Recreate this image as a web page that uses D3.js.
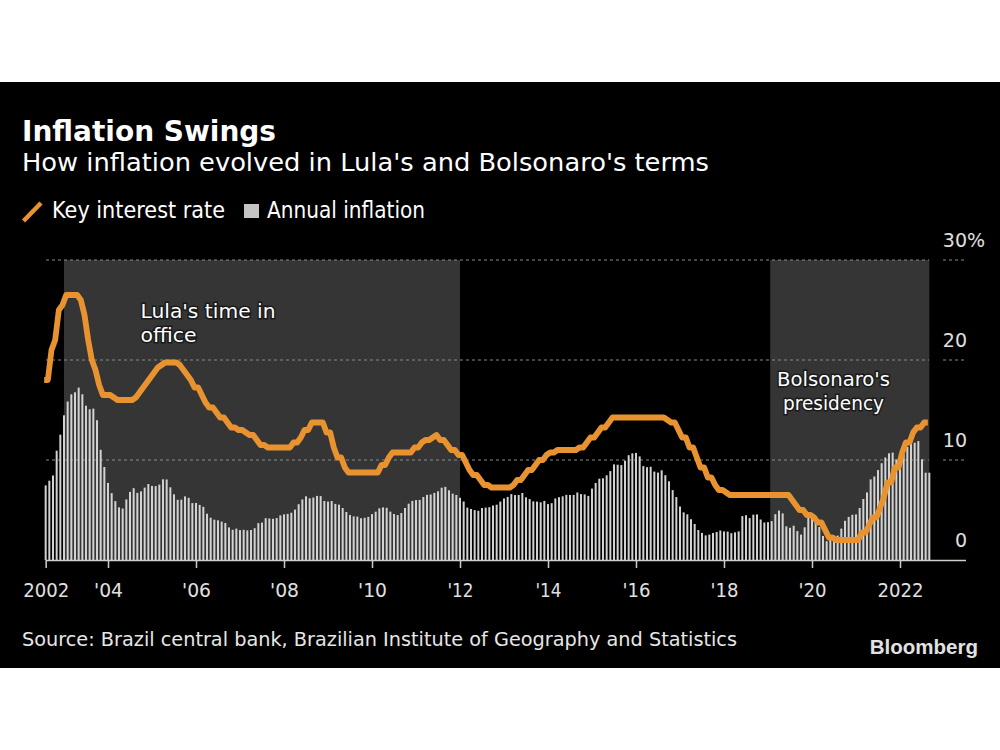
<!DOCTYPE html>
<html>
<head>
<meta charset="utf-8">
<script src="https://cdn.jsdelivr.net/npm/d3@7"></script>
<style>
  html, body { margin: 0; padding: 0; background: #fff; }
  svg { display: block; }
  text { font-family: "DejaVu Sans", Verdana, sans-serif; }
</style>
</head>
<body>
<svg id="chart" width="1000" height="750"></svg>
<script>
// ---------------- DATA (monthly, Aug 2002 – Sep 2022) ----------------
const startYear = 2002;
const startMonth = 8; // August

// Annual inflation (IPCA, 12-month, %)
const inflation = [
  7.46, 7.93, 8.45, 10.93, 12.53,
  14.47, 15.85, 16.57, 16.77, 17.24, 16.57, 15.43, 15.07, 15.14, 13.98, 11.02, 9.30,
  7.71, 6.69, 5.89, 5.26, 5.15, 6.06, 6.81, 7.18, 6.71, 6.86, 7.24, 7.60,
  7.41, 7.39, 7.54, 8.07, 8.05, 7.27, 6.57, 6.02, 6.04, 6.36, 6.22, 5.69,
  5.70, 5.51, 5.32, 4.63, 4.23, 4.03, 3.97, 3.84, 3.70, 3.26, 3.02, 3.14,
  2.99, 3.02, 2.96, 3.00, 3.18, 3.69, 3.74, 4.18, 4.15, 4.12, 4.19, 4.46,
  4.56, 4.61, 4.73, 5.04, 5.58, 6.06, 6.37, 6.17, 6.25, 6.41, 6.39, 5.90,
  5.84, 5.90, 5.61, 5.53, 5.20, 4.80, 4.50, 4.36, 4.34, 4.17, 4.22, 4.31,
  4.59, 4.83, 5.17, 5.26, 5.22, 4.84, 4.60, 4.49, 4.70, 5.20, 5.63, 5.91,
  5.99, 6.01, 6.30, 6.51, 6.55, 6.71, 6.87, 7.23, 7.31, 6.97, 6.64, 6.50,
  6.22, 5.85, 5.24, 5.10, 4.99, 4.92, 5.20, 5.24, 5.28, 5.45, 5.53, 5.84,
  6.15, 6.31, 6.59, 6.49, 6.50, 6.70, 6.27, 6.09, 5.86, 5.84, 5.77, 5.91,
  5.59, 5.68, 6.15, 6.28, 6.37, 6.52, 6.50, 6.51, 6.75, 6.59, 6.56, 6.41,
  7.14, 7.70, 8.13, 8.17, 8.47, 8.89, 9.56, 9.53, 9.49, 9.93, 10.48, 10.67,
  10.71, 10.36, 9.39, 9.28, 9.32, 8.84, 8.74, 8.97, 8.48, 7.87, 6.99, 6.29,
  5.35, 4.76, 4.57, 4.08, 3.60, 3.00, 2.71, 2.46, 2.54, 2.70, 2.80, 2.95,
  2.86, 2.84, 2.68, 2.76, 2.86, 4.39, 4.48, 4.19, 4.53, 4.56, 4.05, 3.75,
  3.78, 3.89, 4.58, 4.94, 4.66, 3.37, 3.22, 3.43, 2.89, 2.54, 3.27, 4.31,
  4.19, 4.01, 3.30, 2.40, 1.88, 2.13, 2.31, 2.44, 3.14, 3.92, 4.31, 4.52,
  4.56, 5.20, 6.10, 6.76, 8.06, 8.35, 8.99, 9.68, 10.25, 10.67, 10.74, 10.06,
  10.38, 10.54, 11.30, 12.13, 11.73, 11.89, 10.07, 8.73, 8.73
];

// Key interest rate (Selic target, %)
const keyRate = [
  18, 18, 21, 22, 25,
  25.5, 26.5, 26.5, 26.5, 26.5, 26, 24.5, 22, 20, 19, 17.5, 16.5,
  16.5, 16.5, 16.25, 16, 16, 16, 16, 16, 16.25, 16.75, 17.25, 17.75,
  18.25, 18.75, 19.25, 19.5, 19.75, 19.75, 19.75, 19.75, 19.5, 19, 18.5, 18,
  17.25, 17.25, 16.5, 15.75, 15.25, 15.25, 14.75, 14.25, 14.25, 13.75, 13.25, 13.25,
  13, 13, 12.75, 12.5, 12.5, 12, 11.5, 11.5, 11.25, 11.25, 11.25, 11.25,
  11.25, 11.25, 11.25, 11.75, 11.75, 12.25, 13, 13, 13.75, 13.75, 13.75, 13.75,
  12.75, 12.75, 11.25, 10.25, 10.25, 9.25, 8.75, 8.75, 8.75, 8.75, 8.75, 8.75,
  8.75, 8.75, 8.75, 9.5, 9.5, 10.25, 10.75, 10.75, 10.75, 10.75, 10.75, 10.75,
  11.25, 11.25, 11.75, 12, 12, 12.25, 12.5, 12, 12, 11.5, 11, 11,
  10.5, 10.5, 9.75, 9, 8.5, 8.5, 8, 7.5, 7.5, 7.25, 7.25, 7.25,
  7.25, 7.25, 7.25, 7.5, 8, 8, 8.5, 9, 9, 9.5, 10, 10,
  10.5, 10.75, 10.75, 11, 11, 11, 11, 11, 11, 11.25, 11.25, 11.75,
  12.25, 12.25, 12.75, 13.25, 13.25, 13.75, 14.25, 14.25, 14.25, 14.25, 14.25, 14.25,
  14.25, 14.25, 14.25, 14.25, 14.25, 14.25, 14.25, 14.25, 14.25, 14, 13.75, 13.75,
  13, 12.25, 12.25, 11.25, 11.25, 10.25, 9.25, 9.25, 8.25, 8.25, 7.5, 7,
  7, 6.75, 6.5, 6.5, 6.5, 6.5, 6.5, 6.5, 6.5, 6.5, 6.5, 6.5,
  6.5, 6.5, 6.5, 6.5, 6.5, 6.5, 6.5, 6, 5.5, 5, 5, 4.5,
  4.5, 4.25, 3.75, 3.75, 3, 2.25, 2.25, 2, 2, 2, 2, 2,
  2, 2, 2.75, 2.75, 3.5, 4.25, 4.25, 5.25, 6.25, 7.75, 7.75, 9.25,
  9.25, 10.75, 11.75, 11.75, 12.75, 13.25, 13.25, 13.75, 13.75
];

// Shaded terms (decimal years)
const termNames = ["Lula", "Bolsonaro"];
const termStarts = [2003, 2019.05];
const termEnds = [2012, 2022 + 8 / 12];

// Axis ticks
const xTickValues = [2002 + 7 / 12, 2004, 2006, 2008, 2010, 2012, 2014, 2016, 2018, 2020, 2022];
const xTickLabels = ["2002", "'04", "'06", "'08", "'10", "'12", "'14", "'16", "'18", "'20", "2022"];
const yTickValues = [0, 10, 20, 30];
const gridValues = [10, 20, 30];

// ---------------- COLORS / LAYOUT ----------------
const ORANGE = "#e8932f";
const BAR = "#d2d2d2";
const SHADE = "#353535";

const svg = d3.select("#chart");

// backgrounds
svg.append("rect").attr("x", 0).attr("y", 0).attr("width", 1000).attr("height", 750).attr("fill", "#fff");
svg.append("rect").attr("x", 0).attr("y", 82).attr("width", 1000).attr("height", 586).attr("fill", "#000");

const monthsDec = inflation.map((_, i) => startYear + (startMonth - 1 + i) / 12);

const x = d3.scaleLinear()
  .domain([startYear + (startMonth - 1) / 12, 2022 + 8 / 12])
  .range([45.67, 929.33]);
const y = d3.scaleLinear().domain([0, 30]).range([560, 260]);

function fit(sel, w) {
  sel.attr("textLength", w).attr("lengthAdjust", "spacingAndGlyphs");
  return sel;
}

// ---------------- Title, subtitle, legend ----------------
fit(svg.append("text").attr("x", 22).attr("y", 140.5)
  .attr("font-size", 28).attr("font-weight", "bold").attr("fill", "#fff")
  .text("Inflation Swings"), 254);
fit(svg.append("text").attr("x", 22).attr("y", 171)
  .attr("font-size", 25.5).attr("fill", "#fff")
  .text("How inflation evolved in Lula's and Bolsonaro's terms"), 687);

svg.append("line").attr("x1", 23.5).attr("y1", 221).attr("x2", 41).attr("y2", 203)
  .attr("stroke", ORANGE).attr("stroke-width", 4.5);
fit(svg.append("text").attr("x", 52).attr("y", 218)
  .attr("font-size", 23).attr("fill", "#fff").text("Key interest rate"), 173);
svg.append("rect").attr("x", 244).attr("y", 204).attr("width", 15).attr("height", 14).attr("fill", "#c4c4c4");
fit(svg.append("text").attr("x", 267).attr("y", 218)
  .attr("font-size", 23).attr("fill", "#fff").text("Annual inflation"), 158);

// ---------------- Plot ----------------
const plot = svg.append("g");

// shaded terms
plot.selectAll("rect.term").data(termNames).join("rect")
  .attr("class", "term")
  .attr("x", (d, i) => x(termStarts[i]))
  .attr("width", (d, i) => x(termEnds[i]) - x(termStarts[i]))
  .attr("y", y(30))
  .attr("height", y(0) - y(30))
  .attr("fill", SHADE);

// gridlines
plot.selectAll("line.grid").data(gridValues).join("line")
  .attr("class", "grid")
  .attr("x1", 46).attr("x2", 929)
  .attr("y1", d => y(d)).attr("y2", d => y(d))
  .attr("stroke", "#8a8a8a").attr("stroke-width", 1).attr("stroke-dasharray", "3,3");
plot.selectAll("line.grid2").data(gridValues).join("line")
  .attr("class", "grid2")
  .attr("x1", 943).attr("x2", 966)
  .attr("y1", d => y(d)).attr("y2", d => y(d))
  .attr("stroke", "#8a8a8a").attr("stroke-width", 1).attr("stroke-dasharray", "3,3");

// bars
plot.selectAll("rect.bar").data(inflation).join("rect")
  .attr("class", "bar")
  .attr("x", (d, i) => x(monthsDec[i]) - 1)
  .attr("width", 2)
  .attr("y", d => y(d))
  .attr("height", d => y(0) - y(d))
  .attr("fill", BAR);

// line
const lineGen = d3.line()
  .x((d, i) => x(monthsDec[i]) - 1.5)
  .y(d => y(d));
plot.append("path").datum(keyRate)
  .attr("d", lineGen)
  .attr("fill", "none")
  .attr("stroke", ORANGE)
  .attr("stroke-width", 5.8)
  .attr("stroke-linejoin", "round")
  .attr("stroke-linecap", "butt");

// annotations
function annot(lines, xPos, y0, anchor, widths) {
  lines.forEach((t, i) => {
    const txt = svg.append("text")
      .attr("x", xPos).attr("y", y0 + i * 24)
      .attr("font-size", 20).attr("fill", "#fff")
      .attr("text-anchor", anchor)
      .attr("stroke", "#1a1a1a").attr("stroke-width", 3)
      .attr("paint-order", "stroke")
      .text(t);
    fit(txt, widths[i]);
  });
}
annot(["Lula's time in", "office"], 140.5, 318, "start", [135, 56]);
annot(["Bolsonaro's", "presidency"], 833.5, 386, "middle", [113, 101]);

// x axis
const xAxis = d3.axisBottom(x)
  .tickValues(xTickValues)
  .tickFormat((d, i) => xTickLabels[i])
  .tickSize(8)
  .tickPadding(16);
const gx = svg.append("g").attr("transform", "translate(0,560)").call(xAxis);
gx.select(".domain").remove();
gx.selectAll(".tick line").attr("stroke", "#cfcfcf").attr("stroke-width", 1.5);
gx.selectAll(".tick text").attr("fill", "#e0e0e0").attr("font-size", 19)
  .each(function (d, i) {
    const widths = [46, 29, 29, 29, 29, 26, 26, 28, 28, 28, 46];
    d3.select(this).attr("textLength", widths[i]).attr("lengthAdjust", "spacingAndGlyphs");
  });
svg.append("line").attr("x1", 46).attr("x2", 966).attr("y1", 560.5).attr("y2", 560.5)
  .attr("stroke", "#cfcfcf").attr("stroke-width", 1.5);

// y axis (right)
const yAxis = d3.axisLeft(y).tickValues(yTickValues).tickSize(0).tickPadding(0)
  .tickFormat(d => d);
const gy = svg.append("g").attr("transform", "translate(967,0)").call(yAxis);
gy.select(".domain").remove();
gy.selectAll(".tick text")
  .attr("x", 0).attr("y", -14).attr("dy", 0)
  .attr("fill", "#e0e0e0").attr("font-size", 19)
  .attr("text-anchor", "end");
gy.selectAll(".tick").filter(d => d === 30).append("text")
  .attr("x", 0).attr("y", -14)
  .attr("fill", "#e0e0e0").attr("font-size", 19)
  .attr("text-anchor", "start")
  .text("%");

// source and logo
fit(svg.append("text").attr("x", 22).attr("y", 646)
  .attr("font-size", 20).attr("fill", "#e6e6e6")
  .text("Source: Brazil central bank, Brazilian Institute of Geography and Statistics"), 715);
svg.append("text").attr("x", 978).attr("y", 654)
  .attr("font-size", 20.5).attr("font-weight", "bold")
  .style("font-family", "'Liberation Sans', Arial, sans-serif")
  .attr("text-anchor", "end")
  .attr("fill", "#e2e2e2")
  .text("Bloomberg");
</script>
</body>
</html>
